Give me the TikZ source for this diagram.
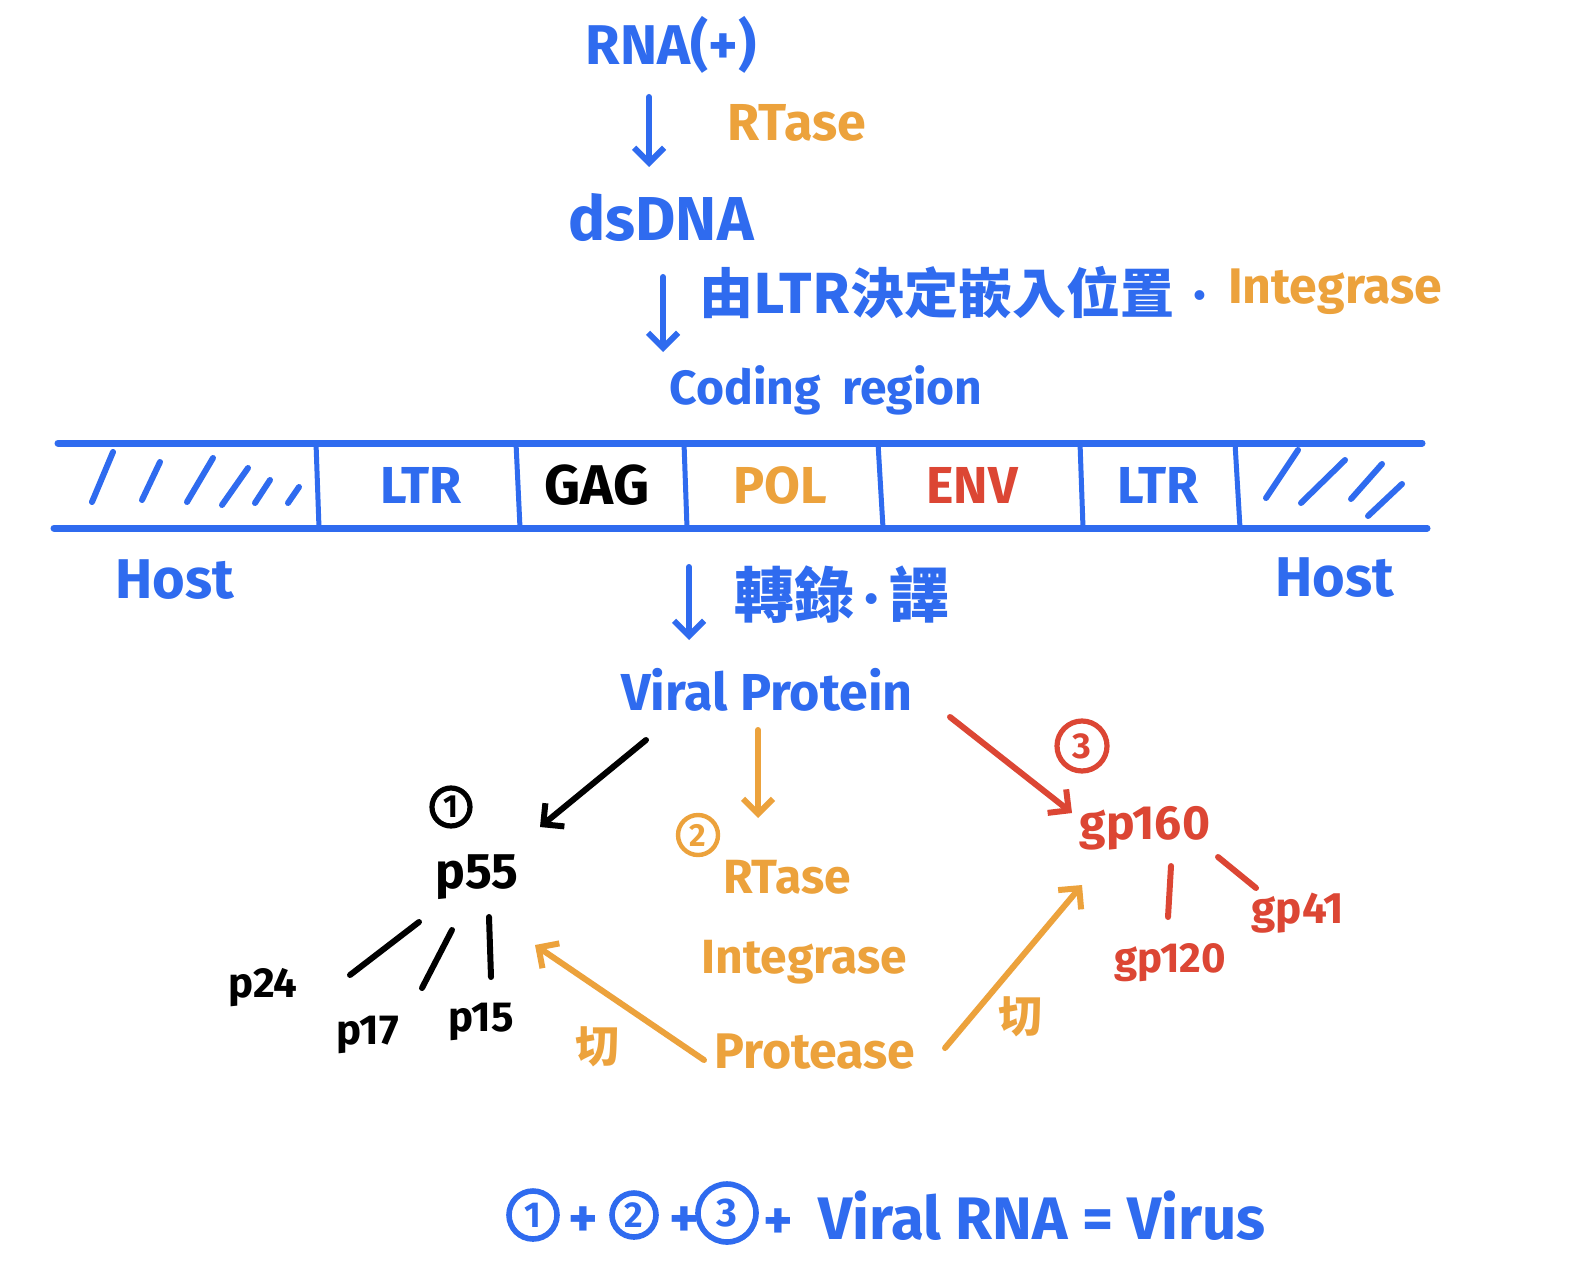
\documentclass[tikz,border=0pt]{standalone}
\usepackage{fontspec}
\setmainfont{Fira Sans}
\newfontfamily\cjk{Noto Sans CJK TC}
\usetikzlibrary{arrows.meta,calc}
\definecolor{hblue}{HTML}{2F6BEF}
\definecolor{horange}{HTML}{ECA23C}
\definecolor{hred}{HTML}{DC4634}
\newcommand\fsz[1]{\fontsize{#1}{#1}\selectfont}
\begin{document}
\begin{tikzpicture}[x=0.5pt,y=-0.5pt,
  lbl/.style={inner sep=0pt,anchor=center,font=\bfseries},
  arr/.style={line width=3pt,line cap=round,line join=round,-{Straight Barb[length=7.5pt,width=15pt,line width=3pt]}},
  band/.style={hblue,line width=3.5pt,line cap=round},
  divider/.style={hblue,line width=2.5pt},
  hatch/.style={hblue,line width=3pt,line cap=round},
  tick/.style={line width=3pt,line cap=round},
  circnum/.style={circle,draw,line width=2.2pt,inner sep=0pt,font=\bfseries}]
\useasboundingbox (0,0) rectangle (1582,1267);
\fill[white] (0,0) rectangle (1582,1267);

% top chain
\node[lbl,hblue] (rna) at (671,45) {\fsz{28}RNA(+)};
\node[lbl,horange] (rtaseA) at (797,123) {\fsz{26}RTase};
\node[lbl,hblue] (dsdna) at (661,218) {\fsz{31}dsDNA};
\node[lbl,hblue] (ltrnote) at (937,292) {\fsz{27}\cjk\bfseries 由LTR決定嵌入位置};
\node[lbl,hblue] (dot) at (1200,296) {\fsz{27}.};
\node[lbl,horange] (integA) at (1335,292) {\fsz{25}Integrase};
\node[lbl,hblue] (coding) at (826,390) {\fsz{24}Coding\hspace{0.45em}region};

\draw[arr,hblue] ($(rna.center)+(-22,52)$) -- ($(dsdna.center)+(-12,-51)$);
\draw[arr,hblue] ($(dsdna.center)+(2,59)$) -- ($(coding.center)+(-163,-38)$);

% band
\coordinate (bTL) at (58,443);
\coordinate (bTR) at (1422,443);
\coordinate (bBL) at (54,528);
\coordinate (bBR) at (1427,528);
\draw[band] (bTL) -- (bTR);
\draw[band] (bBL) -- (bBR);
\foreach \a/\b in {316/319,516/520,684/687,878/883,1080/1083,1235/1240}
  \draw[divider] (\a,443) -- (\b,528);

\node[lbl,hblue] (ltrA) at (421,485) {\fsz{26}LTR};
\node[lbl,black] (gag) at (597,485) {\fsz{28}GAG};
\node[lbl,horange] (pol) at (780,485) {\fsz{26}POL};
\node[lbl,hred] (env) at (972,485) {\fsz{26}ENV};
\node[lbl,hblue] (ltrB) at (1158,485) {\fsz{26}LTR};

% hatches
\foreach \x/\y/\u/\v in {113/452/92/502, 160/462/142/500, 213/458/187/502, 248/468/222/505, 270/480/255/503, 299/487/288/503,
  1298/450/1266/498, 1345/460/1301/503, 1382/464/1351/499, 1402/484/1368/516}
  \draw[hatch] (\x,\y) -- (\u,\v);

\node[lbl,hblue] (hostL) at (175,580) {\fsz{28}Host};
\node[lbl,hblue] (hostR) at (1335,578) {\fsz{28}Host};

\node[lbl,hblue] (transl) at (842,595) {\fsz{30}\cjk\bfseries 轉錄\,{\fontspec{Fira Sans}\bfseries·}\,譯};
\node[lbl,hblue] (vp) at (767,690) {\fsz{26}Viral Protein};
\draw[arr,hblue] ($(transl.center)+(-153,-28)$) -- ($(vp.center)+(-78,-50)$);

% group 1
\node[circnum,black,minimum size=19pt,line width=2.6pt] (c1) at (451,807) {\fsz{16}1};
\node[lbl,black] (p55) at (477,877) {\fsz{25}p55};
\node[lbl,black] (p24) at (263,988) {\fsz{21}p24};
\node[lbl,black] (p17) at (368,1035) {\fsz{21}p17};
\node[lbl,black] (p15) at (481,1022) {\fsz{21}p15};
\draw[arr,black] ($(vp.center)+(-121,50)$) -- ($(p55.center)+(63,-50)$);
\draw[tick,black] ($(p55.center)+(-58,45)$) -- ($(p24.center)+(87,-13)$);
\draw[tick,black] ($(p55.center)+(-25,53)$) -- ($(p17.center)+(54,-47)$);
\draw[tick,black] ($(p55.center)+(12,40)$) -- ($(p15.center)+(10,-45)$);

% group 2
\node[circnum,horange,minimum size=20pt] (c2) at (698,835) {\fsz{16}2};
\node[lbl,horange] (rtaseB) at (787,877) {\fsz{24}RTase};
\node[lbl,horange] (integB) at (804,962) {\fsz{24}Integrase};
\node[lbl,horange] (protease) at (815,1052) {\fsz{25}Protease};
\draw[arr,horange] ($(vp.center)+(-9,40)$) -- ($(rtaseB.center)+(-29,-59)$);
\draw[arr,horange] ($(protease.center)+(-111,8)$) -- ($(p55.center)+(58,68)$);
\draw[arr,horange] ($(protease.center)+(130,-4)$) -- ($(rtaseB.center)+(295,8)$);
\node[lbl,horange] (cut1) at (597,1047) {\fsz{22}\cjk\bfseries 切};
\node[lbl,horange] (cut2) at (1020,1017) {\fsz{22}\cjk\bfseries 切};

% group 3
\node[circnum,hred,minimum size=25pt,line width=2.6pt] (c3) at (1082,746) {\fsz{18}3};
\node[lbl,hred] (gp160) at (1145,828) {\fsz{24}gp160};
\node[lbl,hred] (gp41) at (1298,913) {\fsz{22}gp41};
\node[lbl,hred] (gp120) at (1170,963) {\fsz{21}gp120};
\draw[arr,hred] ($(vp.center)+(183,27)$) -- ($(gp160.center)+(-73,-15)$);
\draw[tick,hred] ($(gp160.center)+(26,38)$) -- ($(gp120.center)+(-2,-46)$);
\draw[tick,hred] ($(gp160.center)+(73,29)$) -- ($(gp41.center)+(-42,-25)$);

% bottom equation
\node[circnum,hblue,minimum size=24pt,line width=2.8pt] (b1) at (533,1215) {\fsz{18}1};
\node[lbl,hblue] (pl1) at (583,1222) {\fsz{28}+};
\node[circnum,hblue,minimum size=22pt,line width=2.8pt] (b2) at (634,1215) {\fsz{18}2};
\node[lbl,hblue] (pl2) at (684,1222) {\fsz{28}+};
\node[circnum,hblue,minimum size=29pt,line width=2.8pt] (b3) at (727,1213) {\fsz{20}3};
\node[lbl,hblue] (pl3) at (778,1224) {\fsz{28}+};
\node[lbl,hblue] (eqn) at (1042,1216) {\fsz{30}Viral RNA = Virus};
\end{tikzpicture}
\end{document}
